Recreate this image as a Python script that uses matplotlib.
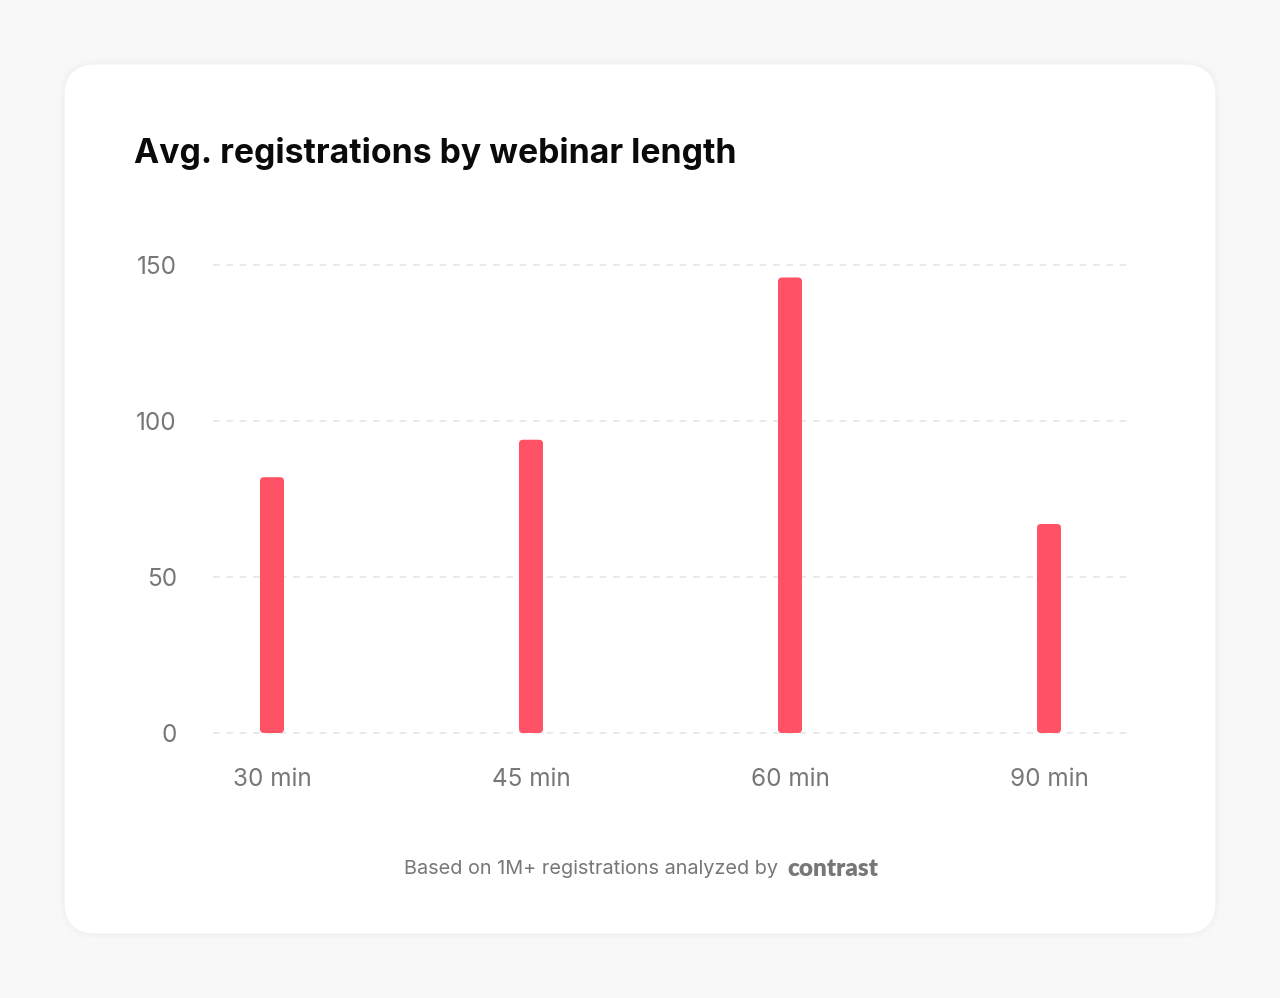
import matplotlib
matplotlib.use("Agg")
import matplotlib.pyplot as plt
from matplotlib.patches import FancyBboxPatch
from matplotlib.transforms import IdentityTransform

categories = ["30 min", "45 min", "60 min", "90 min"]
values = [82, 94, 146, 67]
yticks = [0, 50, 100, 150]
title = "Avg. registrations by webinar length"
footer = "Based on 1M+ registrations analyzed by"
brand = "contrast"

W, H, DPI = 1280, 998, 100
fig = plt.figure(figsize=(W / DPI, H / DPI), dpi=DPI)
fig.patch.set_facecolor("#f8f8f8")

# card with soft shadow
for i, a in enumerate([0.012, 0.009, 0.006]):
    g = 1 + i * 2
    fig.add_artist(FancyBboxPatch((64 - g, 64 - g), 1152 + 2 * g, 870 + 2 * g,
                                  boxstyle="round,pad=0,rounding_size=%d" % (32 + g),
                                  transform=IdentityTransform(), facecolor="black",
                                  edgecolor="none", alpha=a, zorder=0))
fig.add_artist(FancyBboxPatch((64, 64), 1152, 870, boxstyle="round,pad=0,rounding_size=32",
                              transform=IdentityTransform(), facecolor="white",
                              edgecolor="#f2f2f2", linewidth=0.8, zorder=1))

step = 259.0
x0 = 272.0
ax = fig.add_axes([213 / W, (H - 733) / H, 914 / W, 468 / H])
ax.set_zorder(2)
ax.patch.set_alpha(0)
x = list(range(len(categories)))
bw = 24 / step
ax.set_xlim((213 - x0) / step, 3 + (1127 - (x0 + 3 * step)) / step)
ax.set_ylim(0, 150)

bars = ax.bar(x, values, width=bw, color="none")
px_y = 468 / 150
r = 4.0
for b in bars:
    p = FancyBboxPatch((b.get_x(), b.get_y()), b.get_width(), b.get_height(),
                       boxstyle="round,pad=0,rounding_size=%f" % (r / step),
                       facecolor="#ff5266", edgecolor="none", zorder=3)
    p.set_mutation_aspect(step / px_y)
    ax.add_patch(p)

for t in yticks:
    ax.axhline(t, color="#e6e6e6", linewidth=1.2, linestyle=(0, (4, 4)), zorder=1, clip_on=False)

for s in ax.spines.values():
    s.set_visible(False)
ax.tick_params(length=0)
ax.set_yticks(yticks)
ax.set_yticklabels([str(t) for t in yticks], fontsize=17.5, color="#777777", family="Inter")
ax.tick_params(axis="y", pad=26)
ax.set_xticks(x)
ax.set_xticklabels(categories, fontsize=17.5, color="#777777", family="Inter")
ax.tick_params(axis="x", pad=25)

fig.text(134 / W, 1 - 154 / H, title, fontsize=24.3, fontweight="bold", color="#0a0a0a",
         family="Inter", ha="left", va="center")

fig.text(778 / W, 1 - 869 / H, footer, fontsize=14.3, color="#777777", family="Inter",
         ha="right", va="center")
fig.text(787 / W, 1 - 869 / H, brand, fontsize=17.5, fontweight="heavy", color="#777777",
         family="Lato", ha="left", va="center")

fig.savefig("out.png", dpi=DPI, facecolor=fig.get_facecolor())
